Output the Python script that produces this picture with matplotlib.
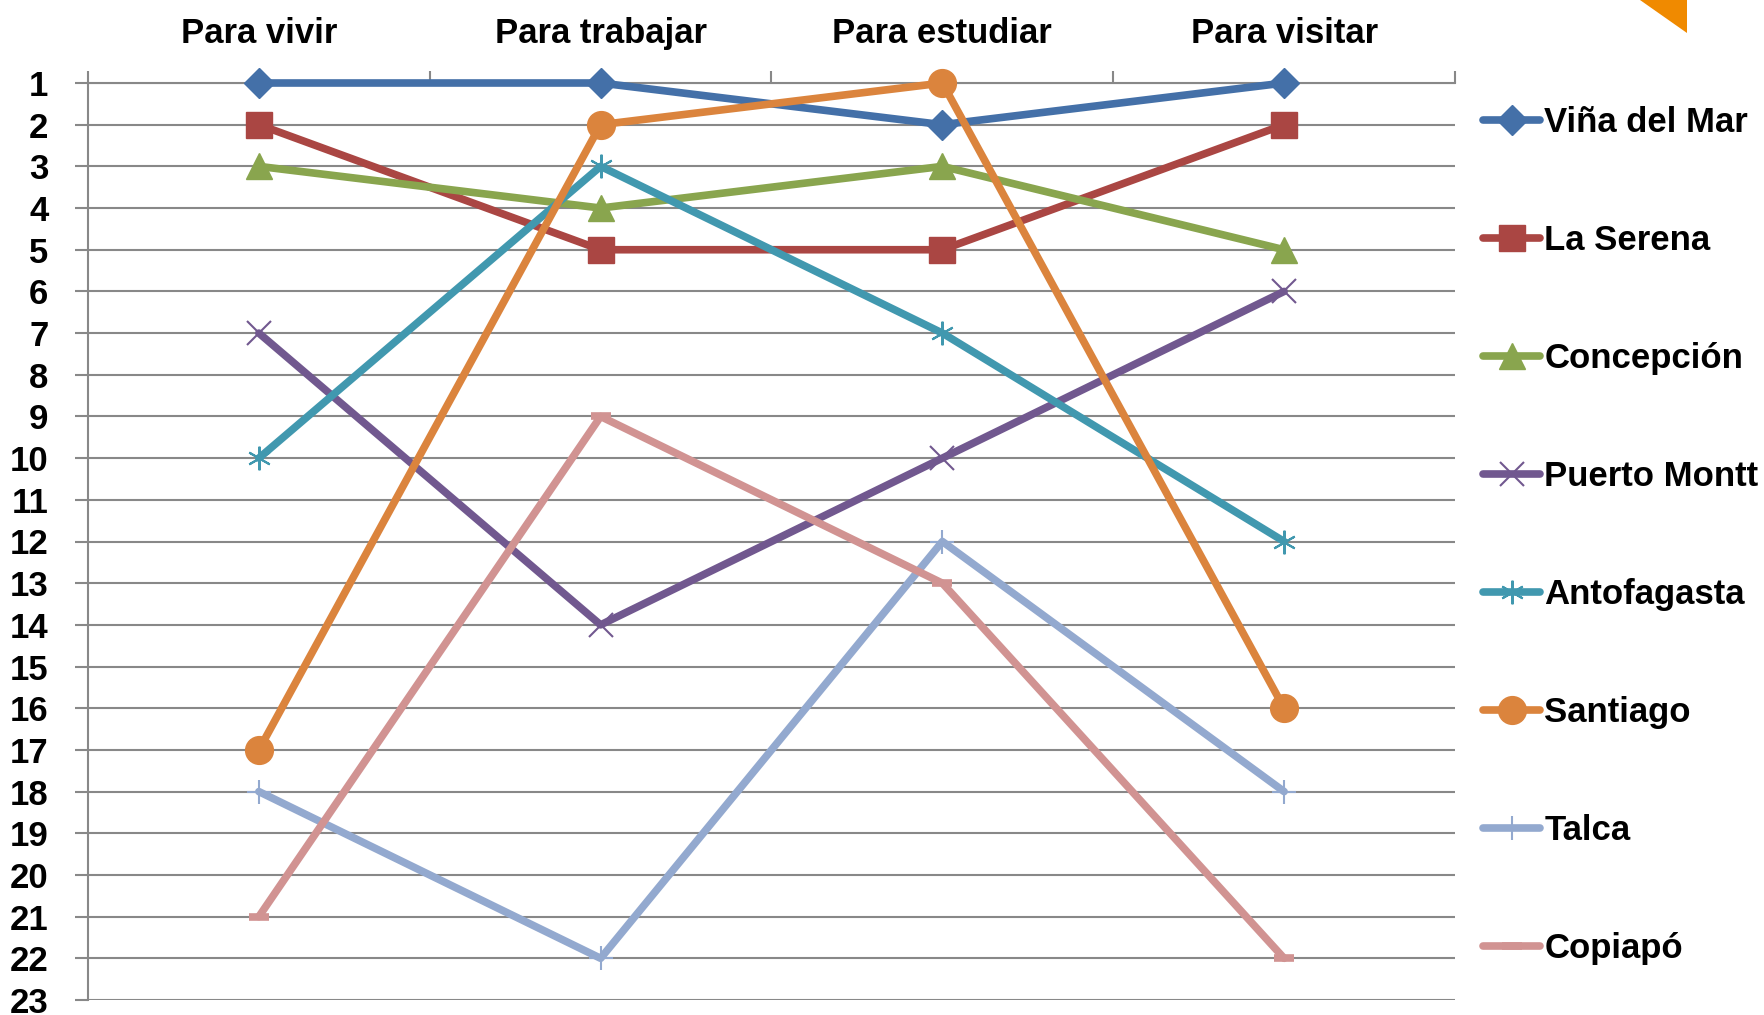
import matplotlib
matplotlib.use("Agg")
import matplotlib.pyplot as plt
from matplotlib import font_manager
from matplotlib.patches import Polygon

available = {f.name for f in font_manager.fontManager.ttflist}
FONT = [f for f in ["Liberation Sans", "Arial"] if f in available] + ["DejaVu Sans"]
plt.rcParams["font.family"] = FONT

categories = ["Para vivir", "Para trabajar", "Para estudiar", "Para visitar"]
series_names = ["Viña del Mar", "La Serena", "Concepción", "Puerto Montt",
                "Antofagasta", "Santiago", "Talca", "Copiapó"]
vina = [1, 1, 2, 1]
serena = [2, 5, 5, 2]
concepcion = [3, 4, 3, 5]
puerto_montt = [7, 14, 10, 6]
antofagasta = [10, 3, 7, 12]
santiago = [17, 2, 1, 16]
talca = [18, 22, 12, 18]
copiapo = [21, 9, 13, 22]
y_ticks = list(range(1, 24))

values = [vina, serena, concepcion, puerto_montt, antofagasta, santiago, talca, copiapo]
colors = ["#4470A8", "#AA4643", "#89A54E", "#71588F", "#4198AF", "#DB843D", "#93A9CF", "#D19392"]
markers = ["D", "s", "^", "x", (6, 2, 0), "o", "+", "_"]
msizes = [15, 19, 19, 17, 17, 20, 17, 15]
mew = [1, 1, 1, 1.5, 1.5, 1, 1.5, 5.5]

W, H = 1765, 1015
fig = plt.figure(figsize=(W / 100, H / 100), dpi=100)
ax = fig.add_axes([88 / W, (H - 1000) / H, (1455 - 88) / W, (1000 - 83) / H])

x = list(range(len(categories)))
for vals, c, m, ms, mw, name in zip(values, colors, markers, msizes, mew, series_names):
    ax.plot(x, vals, color=c, lw=5.5, marker=m, markersize=ms, markeredgewidth=mw,
            markeredgecolor=c, markerfacecolor=c, label=name, solid_capstyle="round",
            solid_joinstyle="round", zorder=3, clip_on=False)

ax.set_ylim(23, 1)
ax.set_xlim(-0.5, len(categories) - 0.5)
ax.set_yticks(y_ticks)
ax.set_yticklabels([str(v) for v in y_ticks])
ax.yaxis.grid(True, color="#888888", lw=1.5, zorder=0)
ax.xaxis.grid(False)
ax.set_axisbelow(True)

ax.xaxis.tick_top()
ax.set_xticks(x)
ax.set_xticklabels(categories)
ax.set_xticks([i + 0.5 for i in range(-1, len(categories))], minor=True)
ax.tick_params(axis="x", which="major", length=0, pad=23.5, labelsize=25)
ax.tick_params(axis="x", which="minor", length=9, width=1.5, color="#888888", top=True, bottom=False)
ax.tick_params(axis="y", length=9.5, width=1.5, color="#888888", pad=19, labelsize=25)
for lab in ax.get_xticklabels() + ax.get_yticklabels():
    lab.set_fontweight("bold")

for s in ["right", "bottom"]:
    ax.spines[s].set_visible(False)
for s in ["left", "top"]:
    ax.spines[s].set_color("#888888")
    ax.spines[s].set_linewidth(1.5)
    ax.spines[s].set_zorder(1)

leg = fig.legend(loc="upper left", bbox_to_anchor=(1483 / W, 1 - 106 / H), frameon=False,
                 prop={"weight": "bold", "size": 25}, handlelength=1.65, handletextpad=0.12,
                 labelspacing=2.45, borderaxespad=0, borderpad=0)

fig.patches.append(Polygon([(1640 / W, 1.0), (1687 / W, 1.0), (1687 / W, 1 - 33 / H)],
                           closed=True, transform=fig.transFigure, facecolor="#F08A00",
                           edgecolor="none"))

fig.savefig("out.png", dpi=100)
